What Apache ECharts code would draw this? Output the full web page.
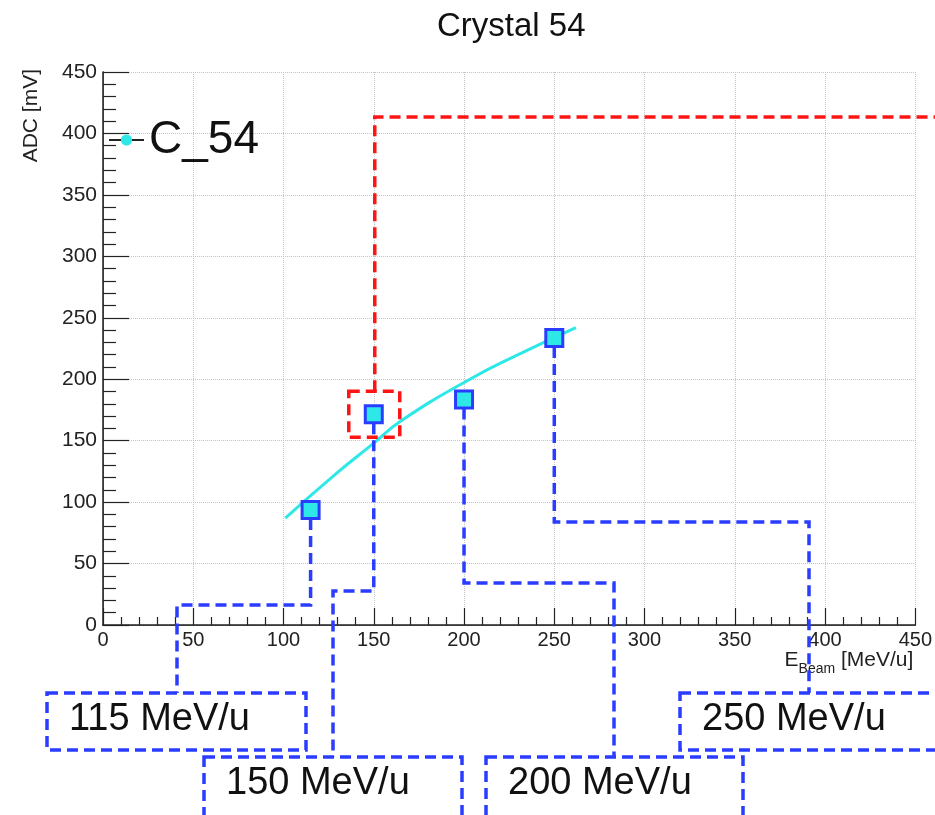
<!DOCTYPE html>
<html>
<head>
<meta charset="utf-8">
<script src="https://cdn.jsdelivr.net/npm/echarts@6/dist/echarts.min.js"></script>
<style>
  html, body { margin: 0; padding: 0; background: #fff; }
  #chart { width: 935px; height: 815px; }
</style>
</head>
<body>
<div id="chart"></div>
<script>
// Measured points (beam energy in MeV/u, ADC in mV)
var energies = [115, 150, 200, 250];
var adcValues = [93.5, 171.5, 183.5, 233.5];
// Fit curve
var fitEnergies = [101, 129, 150, 165, 202, 230, 262];
var fitAdc = [87, 123, 148, 166, 199, 220, 242];
var calloutLabels = ['115 MeV/u', '150 MeV/u', '200 MeV/u', '250 MeV/u'];
var axisTicks = [0, 50, 100, 150, 200, 250, 300, 350, 400, 450];

// Callout layout (pixels on the page)
var calloutJogY = [605, 591, 583, 522];
var calloutDropX = [177, 333, 614, 809];
var calloutBoxes = [[47, 693, 259, 57], [204, 757, 258, 70], [486, 757, 257, 70], [680, 693, 270, 57]];
var redLineY = 117;

var FONT = '"Liberation Sans", Arial, sans-serif';
var BLUE = '#2a3cff';
var RED = '#ff1414';
var CYAN = '#2ee8e8';

var chart = echarts.init(document.getElementById('chart'), null, { renderer: 'canvas' });

var axisMin = axisTicks[0];
var axisMax = axisTicks[axisTicks.length - 1];
var axisStep = axisTicks[1] - axisTicks[0];

var option = {
  animation: false,
  backgroundColor: '#fff',
  title: {
    text: 'Crystal 54',
    left: 432,
    top: 5,
    textStyle: { fontFamily: FONT, fontSize: 33, fontWeight: 'normal', color: '#111' }
  },
  legend: {
    data: ['C_54'],
    left: 103,
    top: 112,
    itemWidth: 35,
    itemHeight: 14,
    itemGap: 0,
    textStyle: { fontFamily: FONT, fontSize: 46, color: '#111', padding: [0, 0, 0, 0] },
    lineStyle: { color: '#222', width: 2, opacity: 1, type: 'solid' },
    itemStyle: { color: CYAN, borderWidth: 0 }
  },
  grid: { left: 103, right: 15, top: 72, bottom: 190 },
  xAxis: [{
    type: 'value',
    min: axisMin, max: axisMax, interval: axisStep,
    position: 'bottom',
    name: '{e|E}{s|Beam}{e| [MeV/u]}',
    nameLocation: 'end',
    nameGap: -2,
    nameTextStyle: {
      align: 'right', verticalAlign: 'top', padding: [25, 0, 0, 0],
      rich: {
        e: { fontFamily: FONT, fontSize: 21, color: '#222', verticalAlign: 'top' },
        s: { fontFamily: FONT, fontSize: 14, color: '#222', verticalAlign: 'top', padding: [12, 0, 0, 0] }
      }
    },
    axisLine: { lineStyle: { color: '#222', width: 1.5 } },
    axisTick: { inside: true, length: 17, lineStyle: { color: '#222', width: 1.2 } },
    minorTick: { show: true, splitNumber: 5, length: 8, lineStyle: { color: '#222', width: 1.2 } },
    axisLabel: { fontFamily: FONT, fontSize: 20, color: '#222', margin: 5 },
    splitLine: { show: true, lineStyle: { color: '#c4c4c4', type: 'dotted', width: 1 } }
  }, {
    type: 'value',
    min: axisMin, max: axisMax, interval: axisStep,
    position: 'top',
    axisLine: { show: true, lineStyle: { color: '#333', width: 1, type: 'dotted' } },
    axisTick: { show: false },
    axisLabel: { show: false },
    splitLine: { show: false }
  }],
  yAxis: [{
    type: 'value',
    min: axisMin, max: axisMax, interval: axisStep,
    position: 'left',
    axisLine: { show: true, lineStyle: { color: '#222', width: 1.5 } },
    axisTick: { show: true, inside: true, length: 26, lineStyle: { color: '#222', width: 1.2 } },
    minorTick: { show: true, splitNumber: 5, length: 13, lineStyle: { color: '#222', width: 1.2 } },
    axisLabel: { fontFamily: FONT, fontSize: 21, color: '#222', margin: 6 },
    splitLine: { show: true, lineStyle: { color: '#c4c4c4', type: 'dotted', width: 1 } }
  }, {
    type: 'value',
    min: axisMin, max: axisMax, interval: axisStep,
    position: 'right',
    axisLine: { show: true, lineStyle: { color: '#333', width: 1, type: 'dotted' } },
    axisTick: { show: false },
    axisLabel: { show: false },
    splitLine: { show: false }
  }],
  series: [{
    name: 'fit',
    type: 'line',
    smooth: true,
    showSymbol: false,
    data: fitEnergies.map(function (e, i) { return [e, fitAdc[i]]; }),
    lineStyle: { color: CYAN, width: 3 },
    itemStyle: { color: CYAN },
    z: 2
  }, {
    name: 'C_54',
    type: 'line',
    data: energies.map(function (e, i) { return [e, adcValues[i]]; }),
    symbol: 'circle',
    symbolSize: 10,
    lineStyle: { width: 1, opacity: 0 },
    itemStyle: { color: CYAN },
    z: 3
  }]
};

chart.setOption(option);

// Callouts drawn over the chart, anchored on the measured points
var dash = [11, 6];
var graphics = [];

graphics.push({
  type: 'text',
  x: 31, y: 69,
  rotation: Math.PI / 2,
  style: { text: 'ADC [mV]', font: '21px ' + FONT, fill: '#222', textAlign: 'right', textVerticalAlign: 'middle' }
});

energies.forEach(function (e, i) {
  var p = chart.convertToPixel({ seriesIndex: 1 }, [e, adcValues[i]]);
  var box = calloutBoxes[i];
  graphics.push({
    type: 'polyline',
    shape: { points: [[p[0], p[1] + 9], [p[0], calloutJogY[i]], [calloutDropX[i], calloutJogY[i]], [calloutDropX[i], box[1]]] },
    style: { fill: null, stroke: BLUE, lineWidth: 3.5, lineDash: dash },
    z: 10
  });
  graphics.push({
    type: 'rect',
    shape: { x: p[0] - 8.5, y: p[1] - 8.5, width: 17, height: 17 },
    style: { fill: CYAN, stroke: BLUE, lineWidth: 3 },
    z: 11
  });
  graphics.push({
    type: 'rect',
    shape: { x: box[0], y: box[1], width: box[2], height: box[3] },
    style: { fill: null, stroke: BLUE, lineWidth: 3.5, lineDash: dash },
    z: 10
  });
  graphics.push({
    type: 'text',
    x: box[0] + 22, y: box[1] + 27,
    style: { text: calloutLabels[i], font: '38px ' + FONT, fill: '#111', textAlign: 'left', textVerticalAlign: 'middle' },
    z: 12
  });
});

// Red highlight around the 150 MeV/u point
var rp = chart.convertToPixel({ seriesIndex: 1 }, [energies[1], adcValues[1]]);
graphics.push({
  type: 'rect',
  shape: { x: rp[0] - 25, y: rp[1] - 23, width: 51, height: 46 },
  style: { fill: null, stroke: RED, lineWidth: 3.5, lineDash: dash },
  z: 13
});
graphics.push({
  type: 'polyline',
  shape: { points: [[rp[0] + 1, rp[1] - 23], [rp[0] + 1, redLineY], [935, redLineY]] },
  style: { fill: null, stroke: RED, lineWidth: 3.5, lineDash: dash },
  z: 13
});

chart.setOption({ graphic: graphics });
</script>
</body>
</html>
